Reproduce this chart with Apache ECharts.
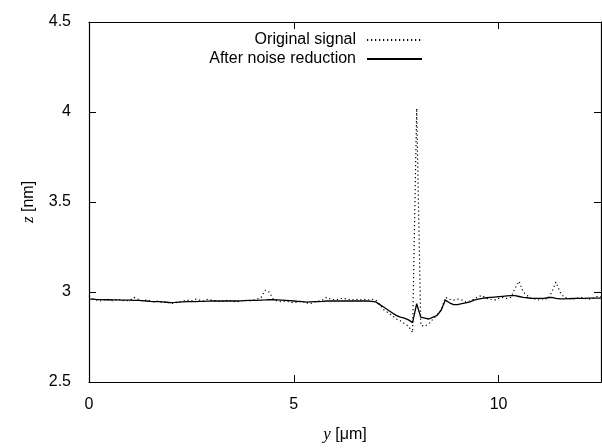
<!DOCTYPE html>
<html>
<head>
<meta charset="utf-8">
<script src="https://cdn.jsdelivr.net/npm/echarts@6/dist/echarts.min.js"></script>
<style>html,body{margin:0;padding:0;background:#fff}#c{width:602px;height:448px}</style>
</head>
<body>
<div id="c"></div>
<script>
var yPos = [0.0,0.1,0.2,0.3,0.4,0.5,0.6,0.7,0.8,0.9,
1.0,1.1,1.2,1.3,1.4,1.5,1.6,1.7,1.8,1.9,
2.0,2.1,2.2,2.3,2.4,2.5,2.6,2.7,2.8,2.9,
3.0,3.1,3.2,3.3,3.4,3.5,3.6,3.7,3.8,3.9,
4.0,4.1,4.2,4.3,4.4,4.5,4.6,4.7,4.8,4.9,
5.0,5.1,5.2,5.3,5.4,5.5,5.6,5.7,5.8,5.9,
6.0,6.1,6.2,6.3,6.4,6.5,6.6,6.7,6.8,6.9,
7.0,7.1,7.2,7.3,7.4,7.5,7.6,7.7,7.8,7.9,
8.0,8.1,8.2,8.3,8.4,8.5,8.6,8.7,8.8,8.9,
9.0,9.1,9.2,9.3,9.4,9.5,9.6,9.7,9.8,9.9,
10.0,10.1,10.2,10.3,10.4,10.5,10.6,10.7,10.8,10.9,
11.0,11.1,11.2,11.3,11.4,11.5,11.6,11.7,11.8,11.9,
12.0,12.1,12.2,12.3,12.4,12.5];

var originalSignal = [2.975,2.96,2.955,2.95,2.96,2.955,2.95,2.96,2.955,2.95,
2.955,2.97,2.96,2.95,2.955,2.95,2.945,2.95,2.94,2.945,
2.935,2.94,2.945,2.95,2.955,2.95,2.96,2.955,2.95,2.96,
2.955,2.95,2.945,2.95,2.955,2.95,2.945,2.95,2.955,2.95,
2.955,2.96,2.97,3.01,3.0,2.96,2.95,2.945,2.95,2.945,
2.94,2.945,2.95,2.94,2.935,2.945,2.95,2.955,2.97,2.96,
2.955,2.96,2.965,2.96,2.955,2.96,2.955,2.96,2.955,2.96,
2.955,2.93,2.9,2.885,2.87,2.85,2.84,2.825,2.81,2.775,
4.02,2.815,2.81,2.825,2.85,2.875,2.9,2.97,2.96,2.955,
2.96,2.955,2.945,2.95,2.96,2.975,2.98,2.965,2.96,2.955,
2.965,2.97,2.965,2.97,3.02,3.06,3.0,2.98,2.965,2.96,
2.955,2.965,2.96,3.0,3.055,3.0,2.97,2.965,2.96,2.965,
2.97,2.965,2.96,2.965,2.975,2.975];

var afterNoiseReduction = [2.96,2.96,2.958,2.958,2.957,2.957,2.956,2.956,2.955,2.955,
2.955,2.954,2.953,2.952,2.95,2.948,2.947,2.946,2.945,2.943,
2.941,2.942,2.944,2.945,2.946,2.946,2.947,2.948,2.948,2.949,
2.95,2.95,2.95,2.95,2.95,2.95,2.95,2.951,2.952,2.953,
2.953,2.954,2.955,2.956,2.958,2.957,2.956,2.955,2.954,2.952,
2.95,2.948,2.946,2.944,2.945,2.946,2.947,2.948,2.95,2.95,
2.95,2.95,2.95,2.95,2.95,2.95,2.95,2.95,2.95,2.948,
2.945,2.93,2.915,2.9,2.885,2.87,2.86,2.855,2.845,2.83,
2.935,2.86,2.855,2.85,2.86,2.87,2.9,2.955,2.94,2.93,
2.93,2.935,2.94,2.945,2.955,2.96,2.965,2.968,2.97,2.972,
2.974,2.976,2.978,2.98,2.98,2.975,2.97,2.968,2.965,2.965,
2.965,2.965,2.968,2.97,2.965,2.962,2.962,2.963,2.964,2.965,
2.965,2.965,2.966,2.966,2.966,2.966];

var xTicks = [0, 5, 10];
var yTicks = [2.5, 3, 3.5, 4, 4.5];
var seriesNames = ['Original signal', 'After noise reduction'];

function pairs(xs, ys) { return xs.map(function (x, i) { return [x, ys[i]]; }); }

var FONT = 'Liberation Sans, Arial, sans-serif';
var chart = echarts.init(document.getElementById('c'), null, {renderer: 'canvas'});
var tickStyle = {show: true, inside: true, length: 7, lineStyle: {color: '#000', width: 1}};
var lineAx = {show: true, onZero: false, lineStyle: {color: '#000', width: 1.2}};
function legendCfg(name, top) {
  return {data: [name], right: 179, top: top, padding: 0, align: 'right', itemWidth: 55, itemHeight: 10,
    itemStyle: {opacity: 0},
    textStyle: {fontFamily: FONT, fontSize: 16, color: '#000', padding: [0, 6, 0, 0]}};
}
chart.setOption({
  animation: false,
  backgroundColor: '#fff',
  grid: {left: 89, right: 1, top: 22, bottom: 62},
  legend: [legendCfg(seriesNames[0], 32), legendCfg(seriesNames[1], 51)],
  xAxis: [
    {type: 'value', min: 0, max: 12.5, interval: 5, position: 'bottom',
     axisLine: lineAx, axisTick: tickStyle, splitLine: {show: false},
     axisLabel: {fontFamily: FONT, fontSize: 16, color: '#000', margin: 15, showMaxLabel: false,
       formatter: function (v) { return xTicks.indexOf(v) >= 0 ? String(v) : ''; }},
     name: '{i|y} [μm]', nameLocation: 'middle', nameGap: 44,
     nameTextStyle: {fontFamily: FONT, fontSize: 16, color: '#000',
       rich: {i: {fontFamily: 'Liberation Serif, serif', fontStyle: 'italic', fontSize: 17, color: '#000'}}}},
    {type: 'value', min: 0, max: 12.5, interval: 5, position: 'top',
     axisLine: lineAx, axisTick: tickStyle, splitLine: {show: false}, axisLabel: {show: false}}
  ],
  yAxis: [
    {type: 'value', min: 2.5, max: 4.5, interval: 0.5, position: 'left',
     axisLine: lineAx, axisTick: tickStyle, splitLine: {show: false},
     axisLabel: {fontFamily: FONT, fontSize: 16, color: '#000', margin: 18,
       formatter: function (v) { return yTicks.indexOf(v) >= 0 ? String(v) : ''; }},
     name: '{i|z} [nm]', nameLocation: 'middle', nameGap: 52, nameRotate: 90,
     nameTextStyle: {fontFamily: FONT, fontSize: 16, color: '#000',
       rich: {i: {fontFamily: 'Liberation Serif, serif', fontStyle: 'italic', fontSize: 17, color: '#000'}}}},
    {type: 'value', min: 2.5, max: 4.5, interval: 0.5, position: 'right',
     axisLine: lineAx, axisTick: tickStyle, splitLine: {show: false}, axisLabel: {show: false}}
  ],
  series: [
    {name: seriesNames[0], type: 'line', data: pairs(yPos, originalSignal), showSymbol: false, symbol: 'none',
     lineStyle: {color: '#000', width: 1.2, type: [1.2, 2.8]}, itemStyle: {color: '#000'}},
    {name: seriesNames[1], type: 'line', data: pairs(yPos, afterNoiseReduction), showSymbol: false, symbol: 'none',
     lineStyle: {color: '#000', width: 1.3, type: 'solid'}, itemStyle: {color: '#000'}}
  ]
});
</script>
</body>
</html>
